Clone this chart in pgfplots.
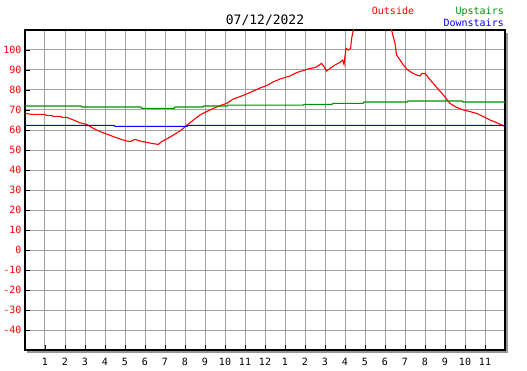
\documentclass[border=0pt]{standalone}
\usepackage{fontspec}
\setmainfont{DejaVu Sans Mono}
\usepackage{pgfplots}
\pgfplotsset{compat=1.18}
\usetikzlibrary{calc}
\definecolor{gridgray}{RGB}{160,160,160}
\definecolor{upgreen}{RGB}{0,144,0}
\definecolor{shadow}{RGB}{150,150,150}
\begin{document}
\begin{tikzpicture}
\begin{axis}[name=ax, scale only axis, width=480pt, height=320pt,
  xmin=0, xmax=24, ymin=-50, ymax=110,
  xtick={1,2,3,4,5,6,7,8,9,10,11,12,13,14,15,16,17,18,19,20,21,22,23},
  xticklabels={1,2,3,4,5,6,7,8,9,10,11,12,1,2,3,4,5,6,7,8,9,10,11},
  ytick={-40,-30,-20,-10,0,10,20,30,40,50,60,70,80,90,100},
  grid=major, grid style={gridgray, line width=1pt},
  axis line style={line width=1.1pt},
  tick style={black, line width=0.9pt}, major tick length=5pt,
  tick align=inside, xtick pos=bottom, ytick pos=left,
  ticklabel style={font=\fontsize{10}{12}\selectfont},
  /pgf/number format/assume math mode=true,
  yticklabel style={text=red},
  xticklabel style={yshift=-5pt},
]
\addplot[red, line width=1.1pt] coordinates {
(0,68.3)(0.35,67.8)(1,67.8)(1.05,67.3)(1.35,67.3)(1.4,66.8)(1.8,66.8)(1.85,66.3)(2.1,66.3)(2.25,65.7)(2.5,64.7)(2.75,63.6)(3.08,62.8)(3.42,60.8)(3.75,59.2)(4.08,58)(4.42,56.7)(4.75,55.5)(5.08,54.5)(5.25,54.2)(5.5,55.3)(5.75,54.5)(6.08,53.8)(6.33,53.3)(6.67,52.8)(6.83,54.2)(7.08,55.5)(7.42,57.5)(7.75,59.5)(8.08,62.3)(8.42,65)(8.75,67.5)(9.08,69.2)(9.42,70.8)(9.75,72.2)(10.08,73.3)(10.42,75.5)(10.75,76.7)(11.08,78)(11.42,79.5)(11.75,81)(12.1,82.3)(12.4,84)(12.75,85.5)(13.25,87)(13.58,88.7)(14,90)(14.25,90.8)(14.5,91.2)(14.67,92.2)(14.83,93.3)(14.95,91.7)(15.08,89.5)(15.25,90.8)(15.5,92.5)(15.75,93.8)(15.88,95)(15.95,92.8)(16.05,100.8)(16.17,100)(16.28,100.8)(16.33,105.8)(16.42,110)(16.5,116)(18.25,116)(18.33,110)(18.5,103.3)(18.58,97.5)(18.75,95)(18.92,92.5)(19.08,90.5)(19.33,88.7)(19.58,87.5)(19.75,87)(19.85,88.3)(20,88.3)(20.25,85.2)(20.58,81.3)(20.92,77.5)(21.25,73.3)(21.58,71.3)(21.92,70)(22.25,69.2)(22.58,68.3)(22.92,66.7)(23.25,65)(23.58,63.7)(23.83,62.5)(23.95,62)
};
\addplot[upgreen, line width=1.1pt] coordinates {
(0,72)(2.8,72)(2.85,71.5)(5.8,71.5)(5.85,70.8)(7.45,70.8)(7.5,71.5)(8.9,71.5)(8.95,72)(10.1,72)(10.15,72.4)(13.9,72.4)(13.95,72.8)(15.35,72.8)(15.4,73.3)(16.9,73.3)(16.95,74)(19.1,74)(19.15,74.5)(21.85,74.5)(21.9,74)(24,74)
};
\addplot[blue, line width=1.1pt] coordinates {
(0,62.3)(4.45,62.3)(4.5,61.8)(8.1,61.8)(8.15,62.3)(24,62.3)
};
\end{axis}
\fill[shadow] ($(ax.south east)+(0.5pt,-2.5pt)$) rectangle ($(ax.north east)+(2.5pt,-3pt)$);
\fill[shadow] ($(ax.south west)+(2pt,-0.5pt)$) rectangle ($(ax.south east)+(2.5pt,-2.5pt)$);
\node[anchor=base, inner sep=0pt, font=\fontsize{13}{15}\selectfont] at ($(ax.north)+(0,5pt)$) {07/12/2022};
\node[anchor=base, inner sep=0pt, text=red, font=\fontsize{10}{12}\selectfont] at ($(ax.north east)+(-112pt,15pt)$) {Outside};
\node[anchor=base east, inner sep=0pt, text=upgreen, font=\fontsize{10}{12}\selectfont] at ($(ax.north east)+(-1pt,15pt)$) {Upstairs};
\node[anchor=base east, inner sep=0pt, text=blue, font=\fontsize{10}{12}\selectfont] at ($(ax.north east)+(-1pt,3.3pt)$) {Downstairs};
\path ($(ax.south west)+(-25pt,-20pt)$) rectangle ($(ax.north east)+(22pt,30pt)$);
\end{tikzpicture}
\end{document}
